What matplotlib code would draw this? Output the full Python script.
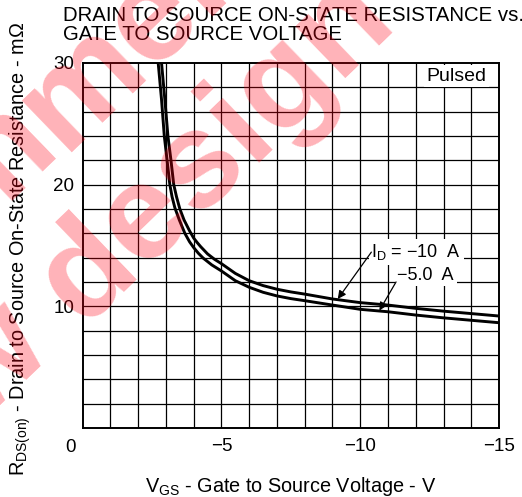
import matplotlib.pyplot as plt

plt.rcParams["font.family"] = ["Liberation Sans", "DejaVu Sans"]
plt.rcParams["mathtext.fontset"] = "custom"
plt.rcParams["mathtext.rm"] = "Liberation Sans"

# -VGS (V) vs RDS(on) (mOhm)
vgs_10a = [2.84, 2.96, 3.07, 3.18, 3.28, 3.38, 3.50, 3.65, 3.85, 4.0, 4.12, 4.25,
           4.5, 4.75, 5.0, 5.5, 6.0, 6.5, 7.0, 7.5, 8.0, 9.0, 10.0, 11.0,
           12.0, 13.0, 14.0, 15.0]
rds_10a = [30, 27, 24, 22, 20, 19, 18, 17.1, 16.2, 15.6, 15.25, 14.9,
           14.3, 13.86, 13.5, 12.7, 12.1, 11.7, 11.4, 11.18, 11.0, 10.6, 10.3, 10.1,
           9.83, 9.6, 9.4, 9.2]
vgs_5a = [2.72, 2.84, 2.94, 3.04, 3.14, 3.22, 3.32, 3.48, 3.68, 3.85, 4.0, 4.17,
          4.34, 4.65, 5.0, 5.5, 6.0, 6.5, 7.0, 7.5, 8.0, 9.0, 10.0, 11.0,
          12.0, 13.0, 14.0, 15.0]
rds_5a = [30, 27, 24, 22, 20, 19, 18.1, 17.1, 16, 15.3, 14.82, 14.35,
          13.96, 13.4, 12.9, 12.1, 11.56, 11.15, 10.85, 10.63, 10.46, 10.1, 9.75, 9.55,
          9.28, 9.05, 8.85, 8.65]

x_ticks = [-5, -10, -15]
x_labels = ["\u22125", "\u221210", "\u221215"]
y_ticks = [10, 20, 30]

fig = plt.figure(figsize=(5.22, 4.97), dpi=100)
ax = fig.add_axes([0.1584, 0.1388, 0.7976, 0.7348])

ax.plot([-v for v in vgs_10a], rds_10a, color="black", lw=2.1, zorder=3,
        solid_joinstyle="round")
ax.plot([-v for v in vgs_5a], rds_5a, color="black", lw=2.1, zorder=3,
        solid_joinstyle="round")

ax.set_xlim(0, -15)
ax.set_ylim(0, 30)

# grid: 1 V by 2 mOhm
for v in range(1, 15):
    ax.axvline(-v, color="black", lw=0.9, zorder=1)
for r in range(2, 30, 2):
    ax.axhline(r, color="black", lw=0.9, zorder=1)
for s in ax.spines.values():
    s.set_linewidth(1.4)

ax.set_xticks(x_ticks)
ax.set_xticklabels(x_labels)
ax.set_yticks(y_ticks)
ax.tick_params(length=0, labelsize=13.5)
ax.tick_params(axis="x", pad=7)
ax.tick_params(axis="y", pad=6)
ax.annotate("0", xy=(0, 0), xytext=(-9, -14), textcoords="offset points",
            ha="center", va="center", fontsize=13.5, annotation_clip=False)

ax.set_xlabel("V$_{\\mathregular{GS}}$ - Gate to Source Voltage - V", fontsize=14.3)
ax.set_ylabel("R$_{\\mathregular{DS(on)}}$ - Drain to Source On-State Resistance - m\u03a9",
              fontsize=14.3)
ax.xaxis.set_label_coords(0.5, -0.128)
ax.yaxis.set_label_coords(-0.12, 0.49)

fig.text(63 / 522, 1 - 6 / 497, "DRAIN TO SOURCE ON-STATE RESISTANCE vs.\nGATE TO SOURCE VOLTAGE",
         ha="left", va="top", fontsize=14.7, linespacing=1.02)

box = dict(facecolor="white", edgecolor="none", pad=2)
ax.text(-14.55, 28.9, "Pulsed", ha="right", va="center", fontsize=14, bbox=box, zorder=4)
ax.text(-10.4, 14.45, "I$_{\\mathregular{D}}$ = \u221210  A",
        ha="left", va="center", fontsize=13, bbox=box, zorder=4)
ax.text(-11.34, 12.55, "\u22125.0  A", ha="left", va="center", fontsize=13, bbox=box, zorder=4)

arrow = dict(arrowstyle="-|>", color="black", lw=0.9, mutation_scale=12, shrinkA=0, shrinkB=0)
ax.annotate("", xy=(-9.19, 10.6), xytext=(-10.4, 14.45), arrowprops=arrow, zorder=5)
ax.annotate("", xy=(-10.69, 9.65), xytext=(-11.29, 12.0), arrowprops=arrow, zorder=5)

# watermark, two lines at 44 degrees, split where the visible words start
wm = dict(fontsize=98, fontweight="bold", color="#ff0014", alpha=0.3,
          rotation=44, rotation_mode="anchor", va="baseline", zorder=10)
l1 = (63 / 522, 1 - 152 / 497)
l2 = (82 / 522, 1 - 327 / 497)
fig.text(*l1, "Not recom", ha="right", **wm)
fig.text(*l1, "mended", ha="left", **wm)
fig.text(55 / 522, 1 - 353 / 497, "for new", ha="right", **wm)
fig.text(*l2, "design", ha="left", **wm)

fig.savefig("out.png", dpi=100)
